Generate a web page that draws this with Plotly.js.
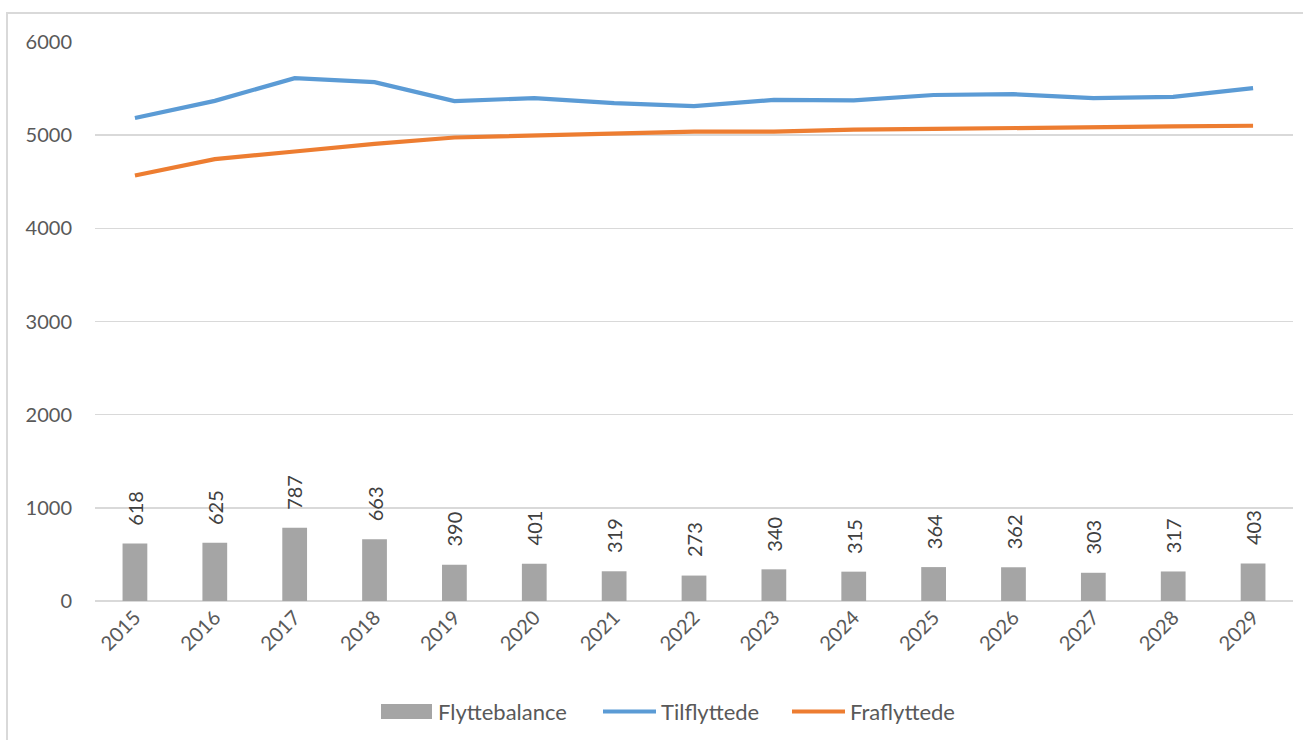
<!DOCTYPE html>
<html>
<head>
<meta charset="utf-8">
<script src="https://cdn.plot.ly/plotly-3.0.1.min.js"></script>
<style>
  html, body { margin: 0; padding: 0; background: #ffffff; }
  #wrap { position: relative; width: 1303px; height: 740px; overflow: hidden; }
  #chart { position: absolute; left: 0; top: 0; width: 1303px; height: 740px; }
  #frame { position: absolute; left: 6px; top: 12px; width: 1330px; height: 760px;
           border: 2px solid #d9d9d9; pointer-events: none; box-sizing: border-box; }
</style>
</head>
<body>
<div id="wrap">
  <div id="chart"></div>
  <div id="frame"></div>
</div>
<script>
const years = ['2015','2016','2017','2018','2019','2020','2021','2022','2023','2024','2025','2026','2027','2028','2029'];
const flyttebalance = [618, 625, 787, 663, 390, 401, 319, 273, 340, 315, 364, 362, 303, 317, 403];
const tilflyttede = [5185, 5368, 5612, 5569, 5365, 5398, 5343, 5311, 5378, 5374, 5431, 5440, 5397, 5412, 5504];
const fraflyttede = [4567, 4743, 4825, 4906, 4975, 4997, 5024, 5038, 5038, 5059, 5067, 5078, 5094, 5095, 5101];
const seriesNames = ['Flyttebalance', 'Tilflyttede', 'Fraflyttede'];
const yTicks = [0, 1000, 2000, 3000, 4000, 5000, 6000];

const colors = { bar: '#a5a5a5', til: '#5b9bd5', fra: '#ed7d31' };
const FONT = 'Lato, "Open Sans", sans-serif';
const TICK = 20;

const traces = [
  { type: 'bar', name: seriesNames[0], x: years, y: flyttebalance,
    marker: { color: colors.bar }, hoverinfo: 'x+y' },
  { type: 'scatter', mode: 'lines', name: seriesNames[1], x: years, y: tilflyttede,
    line: { color: colors.til, width: 4.2 } },
  { type: 'scatter', mode: 'lines', name: seriesNames[2], x: years, y: fraflyttede,
    line: { color: colors.fra, width: 4.2 } }
];

// data labels on bars (x given as category index)
const annotations = years.map((yr, i) => ({
  x: i, y: flyttebalance[i], xref: 'x', yref: 'y',
  text: String(flyttebalance[i]), showarrow: false,
  textangle: -90, yanchor: 'bottom', xanchor: 'center', yshift: 16,
  font: { family: FONT, size: TICK, color: '#404040' }
}));

// custom legend (paper coordinates; plot area x 95..1293, y 42..601)
const px = v => (v - 95) / 1198;
const py = v => (601 - v) / 559;
const shapes = [
  { type: 'rect', xref: 'paper', yref: 'paper', x0: px(381), x1: px(432), y0: py(719), y1: py(704),
    fillcolor: colors.bar, line: { width: 0 } },
  { type: 'line', xref: 'paper', yref: 'paper', x0: px(603), x1: px(656), y0: py(711.5), y1: py(711.5),
    line: { color: colors.til, width: 4.2 } },
  { type: 'line', xref: 'paper', yref: 'paper', x0: px(792), x1: px(845), y0: py(711.5), y1: py(711.5),
    line: { color: colors.fra, width: 4.2 } }
];
const legendText = [[436, seriesNames[0]], [659, seriesNames[1]], [848, seriesNames[2]]];
legendText.forEach(([x, t]) => annotations.push({
  xref: 'paper', yref: 'paper', x: px(x), y: py(711.5), xanchor: 'left', yanchor: 'middle',
  text: t, showarrow: false, font: { family: FONT, size: 22, color: '#595959' }
}));

const layout = {
  width: 1303, height: 740,
  margin: { l: 95, r: 10, t: 42, b: 139, pad: 0 },
  paper_bgcolor: 'rgba(0,0,0,0)', plot_bgcolor: 'rgba(0,0,0,0)',
  showlegend: false,
  bargap: 0.69,
  font: { family: FONT, size: TICK, color: '#595959' },
  xaxis: {
    type: 'category', range: [-0.5, years.length - 0.5], autorange: false,
    tickangle: -45, showgrid: false, showline: false, zeroline: false,
    ticks: '', tickfont: { family: FONT, size: TICK, color: '#595959' }
  },
  yaxis: {
    range: [0, 6000], autorange: false, tickvals: yTicks, ticktext: yTicks.map(String),
    showgrid: true, gridcolor: '#d9d9d9', gridwidth: 1.5,
    zeroline: true, zerolinecolor: '#d9d9d9', zerolinewidth: 1.5,
    showline: false, ticks: '', ticklabelstandoff: 22,
    tickfont: { family: FONT, size: TICK, color: '#595959' }
  },
  annotations: annotations,
  shapes: shapes
};

Plotly.newPlot('chart', traces, layout, { displayModeBar: false, staticPlot: true });
</script>
</body>
</html>
